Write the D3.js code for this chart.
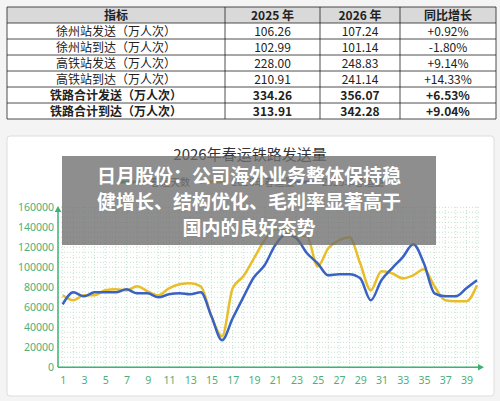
<!DOCTYPE html>
<html>
<head>
<meta charset="utf-8">
<script src="https://d3js.org/d3.v7.min.js"></script>
<style>
body{margin:0;background:#f4f4f4;font-family:"Noto Sans CJK SC","Noto Sans",sans-serif;}
</style>
</head>
<body>
<script>
// table data
const headers = ["指标", "2025 年", "2026 年", "同比增长"];
const rowNames = ["徐州站发送（万人次）", "徐州站到达（万人次）", "高铁站发送（万人次）", "高铁站到达（万人次）", "铁路合计发送（万人次）", "铁路合计到达（万人次）"];
const val2025 = ["106.26", "102.99", "228.00", "210.91", "334.26", "313.91"];
const val2026 = ["107.24", "101.14", "248.83", "241.14", "356.07", "342.28"];
const growth = ["+0.92%", "-1.80%", "+9.14%", "+14.33%", "+6.53%", "+9.04%"];

// chart data
const days = d3.range(1, 41);
const series2025 = [63000,75000,71000,75000,75000,75000,78000,74000,74000,70000,73000,74000,73000,75000,51000,27000,49000,70000,90000,102000,122000,133000,129000,114000,104000,92000,93000,93000,89000,67000,87000,99000,110000,123000,104000,74000,71000,71000,79000,87000];
const series2026 = [72000,67000,72000,72000,77000,78000,77000,81000,76000,72000,79000,83000,84000,81000,51000,31000,79000,91000,109000,127000,138000,137000,132000,131000,101000,119000,127000,130000,104000,77000,96000,94000,89000,92000,98000,81000,67000,66000,66000,82000];
const yTicks = d3.range(0, 160001, 20000);
const xTicks = d3.range(1, 40, 2);

const svg = d3.select("body").append("svg").attr("width", 500).attr("height", 401);
svg.append("rect").attr("width", 500).attr("height", 401).attr("fill", "#f4f4f4");

// ---- table
const colX = [7, 225, 320, 400, 496];
const rowY = [7, 23, 39, 55, 71, 87, 103, 119];
svg.append("rect").attr("x", 7).attr("y", 7).attr("width", 489).attr("height", 112).attr("fill", "#fff");
svg.append("rect").attr("x", 7).attr("y", 7).attr("width", 489).attr("height", 16).attr("fill", "#d9d9d9");
const tg = svg.append("g").attr("stroke", "#222").attr("stroke-width", 0.8);
rowY.forEach(y => tg.append("line").attr("x1", 7).attr("x2", 496).attr("y1", y).attr("y2", y));
colX.forEach(x => tg.append("line").attr("x1", x).attr("x2", x).attr("y1", 7).attr("y2", 119));
const cell = (t, c, r, bold) => svg.append("text")
  .attr("x", (colX[c] + colX[c + 1]) / 2).attr("y", (rowY[r] + rowY[r + 1]) / 2 + 4.5)
  .attr("text-anchor", "middle").attr("font-size", 12).attr("fill", "#222")
  .attr("font-weight", bold ? "bold" : "normal").text(t);
headers.forEach((h, i) => cell(h, i, 0, true));
rowNames.forEach((n, i) => {
  const b = i >= 4;
  cell(n, 0, i + 1, b); cell(val2025[i], 1, i + 1, b); cell(val2026[i], 2, i + 1, b); cell(growth[i], 3, i + 1, b);
});

// ---- chart frame
svg.append("rect").attr("x", 7).attr("y", 136).attr("width", 487).attr("height", 260)
  .attr("rx", 3).attr("fill", "#fff").attr("stroke", "#ddd");
svg.append("text").attr("x", 250).attr("y", 160).attr("text-anchor", "middle")
  .attr("font-size", 15).attr("fill", "#333").text("2026年春运铁路发送量");

// legend (mostly hidden)
const leg = [["春运天数", "#3cb371", 118], ["2026年春运量", "#e6b800", 200], ["2025年春运量", "#3b5fc0", 290]];
leg.forEach(([t, c, x]) => {
  svg.append("line").attr("x1", x).attr("x2", x + 28).attr("y1", 182).attr("y2", 182).attr("stroke", c).attr("stroke-width", 3);
  svg.append("text").attr("x", x + 32).attr("y", 186).attr("font-size", 10).attr("fill", "#555").text(t);
});

const x = d3.scaleLinear().domain([1, 40]).range([62.7, 477]);
const y = d3.scaleLinear().domain([0, 160000]).range([367.3, 207.3]);

// grid
const grid = svg.append("g").attr("stroke", "#b5dcc4").attr("stroke-dasharray", "1,2").attr("stroke-width", 0.8);
d3.range(0, 160001, 5000).forEach(v => grid.append("line").attr("x1", 58).attr("x2", 480).attr("y1", y(v)).attr("y2", y(v)));
days.forEach(d => grid.append("line").attr("x1", x(d)).attr("x2", x(d)).attr("y1", 207).attr("y2", 367));

// axes
const ax = svg.append("g").attr("transform", "translate(0,367.3)")
  .call(d3.axisBottom(x).tickValues(xTicks).tickSize(0).tickPadding(9).tickFormat(d3.format("d")));
const ay = svg.append("g").attr("transform", "translate(58,0)")
  .call(d3.axisLeft(y).tickValues(yTicks).tickSize(0).tickPadding(4).tickFormat(d3.format("d")));
[ax, ay].forEach(a => {
  a.select(".domain").remove();
  a.selectAll("text").attr("fill", "#4caf7a").attr("font-size", 10.5).attr("font-family", "Noto Sans, sans-serif");
});
svg.append("line").attr("x1", 58).attr("x2", 478).attr("y1", 367.3).attr("y2", 367.3).attr("stroke", "#3cb371").attr("stroke-width", 1.5);
svg.append("line").attr("x1", 58).attr("x2", 58).attr("y1", 367.3).attr("y2", 212).attr("stroke", "#3cb371").attr("stroke-width", 1.5);
svg.append("path").attr("d", "M478,364 L484,367.3 L478,370.6Z").attr("fill", "#3cb371");
svg.append("path").attr("d", "M54.7,212 L58,206 L61.3,212Z").attr("fill", "#3cb371");

const line = d3.line().x((d, i) => x(days[i])).y(d => y(d)).curve(d3.curveMonotoneX);
svg.append("path").datum(series2026).attr("d", line).attr("fill", "none").attr("stroke", "#e8be2a").attr("stroke-width", 2.5);
svg.append("path").datum(series2025).attr("d", line).attr("fill", "none").attr("stroke", "#3a62c2").attr("stroke-width", 2.5);

// overlay banner
svg.append("rect").attr("x", 62).attr("y", 156).attr("width", 374).attr("height", 89).attr("fill", "rgba(110,110,110,0.78)");
const lines = ["日月股份：公司海外业务整体保持稳", "健增长、结构优化、毛利率显著高于", "国内的良好态势"];
lines.forEach((t, i) => svg.append("text").attr("x", 249).attr("y", 183 + i * 26).attr("text-anchor", "middle")
  .attr("font-size", 19).attr("font-weight", "bold").attr("fill", "#fff").text(t));
</script>
</body>
</html>
